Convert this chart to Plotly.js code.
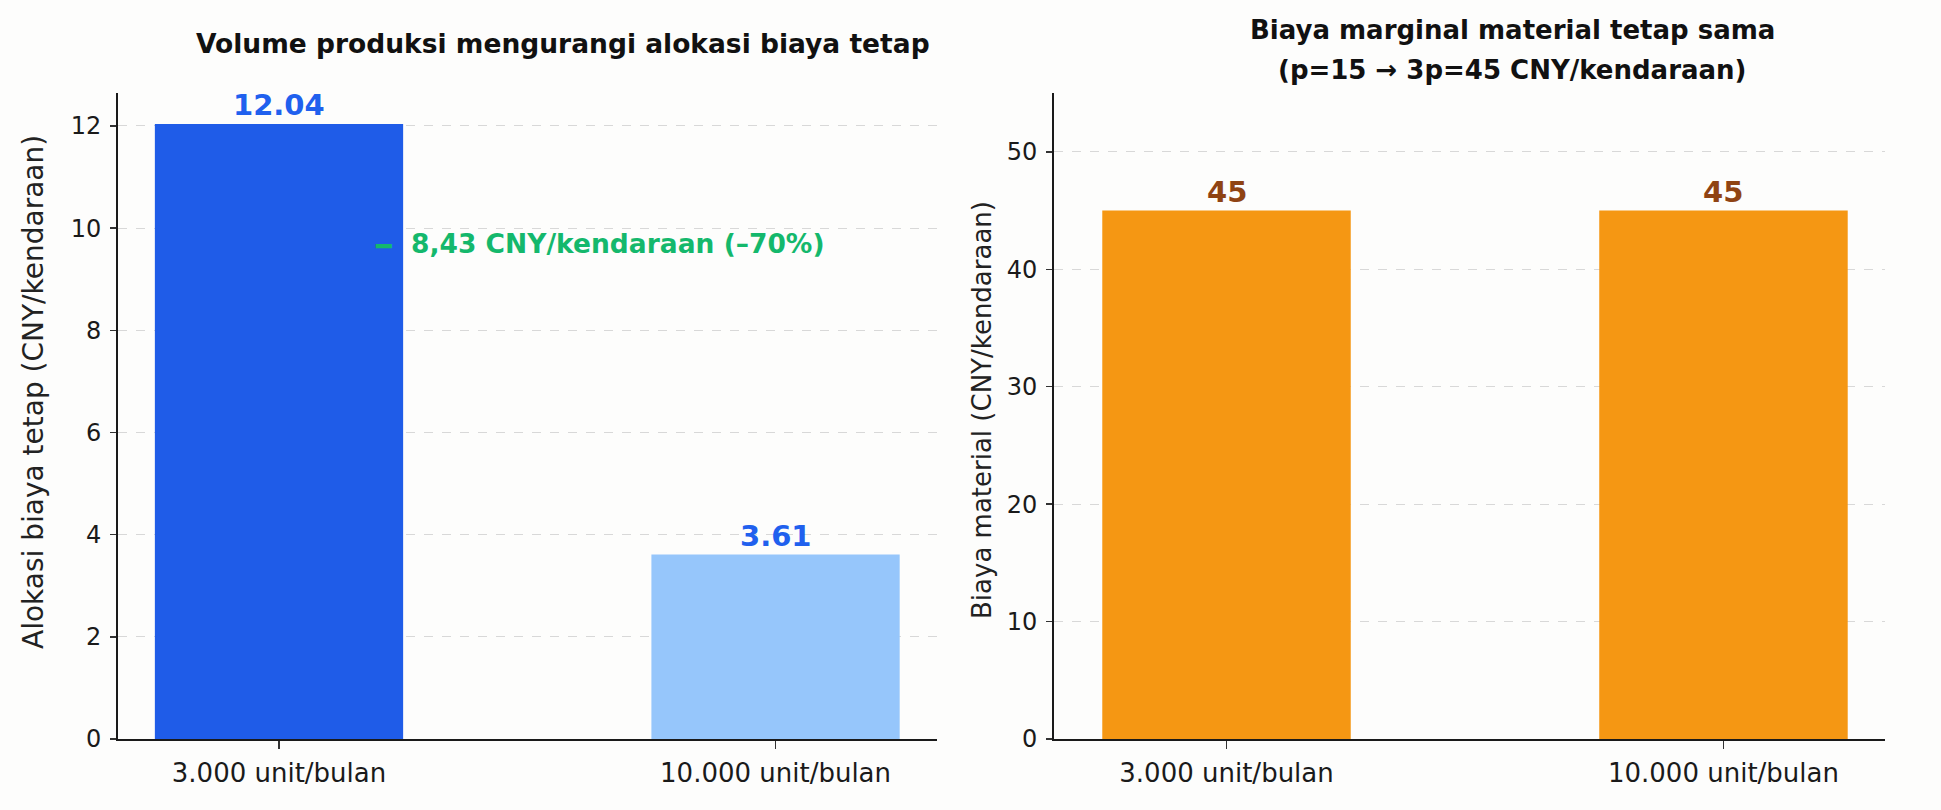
<!DOCTYPE html>
<html>
<head>
<meta charset="utf-8">
<script src="https://cdn.plot.ly/plotly-3.0.1.min.js"></script>
<style>
  html, body { margin: 0; padding: 0; background: #fdfdfc; }
  #chart { width: 1941px; height: 810px; }
</style>
</head>
<body>
<div id="chart"></div>
<script>
// ---- data ----
const categories = ['3.000 unit/bulan', '10.000 unit/bulan'];
const fixedAllocation = [12.04, 3.61];      // CNY/kendaraan
const materialCost = [45, 45];              // CNY/kendaraan
const leftTitle = 'Volume produksi mengurangi alokasi biaya tetap';
const rightTitleLines = ['Biaya marginal material tetap sama', '(p=15 → 3p=45 CNY/kendaraan)'];
const leftYTitle = 'Alokasi biaya tetap (CNY/kendaraan)';
const rightYTitle = 'Biaya material (CNY/kendaraan)';
const leftYTicks = [0, 2, 4, 6, 8, 10, 12];
const rightYTicks = [0, 10, 20, 30, 40, 50];
const annotationY = 9.7;

// ---- styles ----
const FONT = 'DejaVu Sans, sans-serif';
const fixedColors = ['#1f5ce8', '#96c6fb'];
const materialColor = '#f59713';
const fixedLabelColor = '#2060ee';
const materialLabelColor = '#8f4313';
const greenColor = '#14b86c';

const diff = fixedAllocation[0] - fixedAllocation[1];
const pct = Math.round(-diff / fixedAllocation[0] * 100);
const reductionText = diff.toFixed(2).replace('.', ',') + ' CNY/kendaraan (' + String(pct).replace('-', '–') + '%)';

const traces = [
  {
    type: 'bar', x: categories, y: fixedAllocation, xaxis: 'x', yaxis: 'y',
    marker: { color: fixedColors, line: { width: 0 } }, width: 0.5, hoverinfo: 'skip'
  },
  {
    type: 'bar', x: categories, y: materialCost, xaxis: 'x2', yaxis: 'y2',
    marker: { color: materialColor, line: { width: 0 } }, width: 0.5, hoverinfo: 'skip'
  }
];

const annotations = [];
categories.forEach((c, i) => {
  annotations.push({
    xref: 'x', yref: 'y', x: c, y: fixedAllocation[i], text: fixedAllocation[i].toFixed(2),
    showarrow: false, yanchor: 'bottom', yshift: 0,
    font: { family: FONT, size: 29, color: fixedLabelColor, weight: 'bold' }
  });
  annotations.push({
    xref: 'x2', yref: 'y2', x: c, y: materialCost[i], text: String(materialCost[i]),
    showarrow: false, yanchor: 'bottom', yshift: 0,
    font: { family: FONT, size: 29, color: materialLabelColor, weight: 'bold' }
  });
});
annotations.push({
  xref: 'x', yref: 'y', x: 0.19, y: annotationY, text: '━',
  showarrow: false, xanchor: 'left', yanchor: 'middle', yshift: -3,
  font: { family: FONT, size: 26, color: greenColor }
});
annotations.push({
  xref: 'x', yref: 'y', x: 0.262, y: annotationY, text: '<b>' + reductionText + '</b>',
  showarrow: false, xanchor: 'left', yanchor: 'middle',
  font: { family: FONT, size: 26.5, color: greenColor }
});
annotations.push({
  xref: 'paper', yref: 'paper', x: 0.290, y: 0.9457, text: '<b>' + leftTitle + '</b>',
  showarrow: false, xanchor: 'center', yanchor: 'middle',
  font: { family: FONT, size: 26.5, color: '#111' }
});
annotations.push({
  xref: 'paper', yref: 'paper', x: 0.779, y: 0.963, text: '<b>' + rightTitleLines[0] + '</b>',
  showarrow: false, xanchor: 'center', yanchor: 'middle',
  font: { family: FONT, size: 26, color: '#111' }
});
annotations.push({
  xref: 'paper', yref: 'paper', x: 0.779, y: 0.9136, text: '<b>' + rightTitleLines[1] + '</b>',
  showarrow: false, xanchor: 'center', yanchor: 'middle',
  font: { family: FONT, size: 26, color: '#111' }
});
// y-axis titles
annotations.push({
  xref: 'paper', yref: 'paper', x: 33 / 1941, y: 1 - 392 / 810, text: leftYTitle,
  textangle: -90, showarrow: false, xanchor: 'center', yanchor: 'middle',
  font: { family: FONT, size: 28, color: '#222' }
});
annotations.push({
  xref: 'paper', yref: 'paper', x: 982 / 1941, y: 1 - 410 / 810, text: rightYTitle,
  textangle: -90, showarrow: false, xanchor: 'center', yanchor: 'middle',
  font: { family: FONT, size: 26, color: '#222' }
});

const xCommon = {
  type: 'category', showline: true, linecolor: '#1a1a1a', linewidth: 2.2,
  ticks: 'outside', ticklen: 8, tickwidth: 1.5, tickcolor: '#333',
  ticklabelstandoff: 2,
  showgrid: false, zeroline: false,
  tickfont: { family: FONT, size: 26, color: '#1a1a1a' }
};
const yCommon = {
  showline: true, linecolor: '#1a1a1a', linewidth: 1.6,
  ticks: 'outside', ticklen: 6, tickwidth: 1.5, tickcolor: '#333',
  ticklabelstandoff: 4,
  showgrid: true, gridcolor: '#d8d8d8', gridwidth: 1, griddash: 'dash',
  zeroline: false,
  tickfont: { family: FONT, size: 24, color: '#1a1a1a' }
};

const layout = {
  width: 1941, height: 810,
  margin: { l: 0, r: 0, t: 0, b: 0 },
  paper_bgcolor: '#fdfdfc', plot_bgcolor: '#fdfdfc',
  showlegend: false,
  xaxis: Object.assign({}, xCommon, { domain: [0.0606, 0.4827], range: [-0.325, 1.325], anchor: 'y' }),
  yaxis: Object.assign({}, yCommon, {
    domain: [0.0877, 0.885], range: [0, 12.642], anchor: 'x',
    tickvals: leftYTicks, ticktext: leftYTicks.map(String)
  }),
  xaxis2: Object.assign({}, xCommon, { domain: [0.5428, 0.9714], range: [-0.348, 1.326], anchor: 'y2' }),
  yaxis2: Object.assign({}, yCommon, {
    domain: [0.0877, 0.885], range: [0, 55], anchor: 'x2',
    tickvals: rightYTicks, ticktext: rightYTicks.map(String)
  }),
  annotations: annotations
};

Plotly.newPlot('chart', traces, layout, { displayModeBar: false, staticPlot: true });
</script>
</body>
</html>
